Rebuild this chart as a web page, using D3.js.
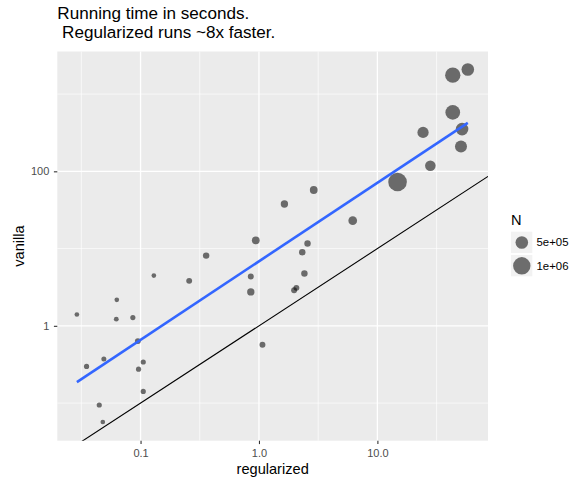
<!DOCTYPE html>
<html>
<head>
<meta charset="utf-8">
<script src="https://cdn.jsdelivr.net/npm/d3@7"></script>
<style>
  html, body { margin: 0; padding: 0; background: #fff; }
  svg { display: block; font-family: "Liberation Sans", Arial, Helvetica, sans-serif; }
</style>
</head>
<body>
<svg id="chart" width="571" height="481"></svg>
<script>
// ---- data ----
const regularized = [0.029, 0.063, 0.0624, 0.0861, 0.1295, 0.0949, 0.035, 0.049, 0.1054, 0.0962,
                     0.1054, 0.0448, 0.048, 0.358, 0.2575, 0.94, 0.853, 0.853, 1.07, 1.64,
                     2.90, 6.19, 2.57, 2.32, 2.42, 1.98, 2.07, 14.8, 28.0, 24.3,
                     43.3, 58.0, 43.3, 51.9, 50.8];
const vanilla     = [1.40, 2.17, 1.22, 1.28, 4.47, 0.634, 0.298, 0.371, 0.340, 0.275,
                     0.1415, 0.0944, 0.0569, 8.11, 3.82, 12.8, 4.34, 2.75, 0.568, 37.8,
                     57.3, 23.0, 11.6, 8.97, 4.75, 2.89, 3.10, 72.7, 118, 319,
                     1758, 2083, 579, 352, 210];
const N           = [50000, 50000, 55000, 65000, 50000, 90000, 65000, 60000, 65000, 65000,
                     65000, 65000, 50000, 110000, 90000, 170000, 90000, 150000, 90000, 150000,
                     170000, 220000, 110000, 110000, 110000, 90000, 90000, 1150000, 340000, 390000,
                     760000, 500000, 700000, 500000, 450000];

const xMajor = [0.1, 1, 10];
const xMajorLabels = ["0.1", "1.0", "10.0"];
const xMinor = [Math.pow(10, -1.5), Math.pow(10, -0.5), Math.pow(10, 0.5), Math.pow(10, 1.5)];
const yMajor = [1, 100];
const yMajorLabels = ["1", "100"];
const yMinor = [0.1, 10, 1000];
const legendN = [500000, 1000000];
const legendLabels = ["5e+05", "1e+06"];

const titleLines = ["Running time in seconds.", " Regularized runs ~8x faster."];

// ---- layout ----
const P = { left: 57.3, right: 488, top: 51.5, bottom: 440.7 };
const svg = d3.select("#chart");

const x = d3.scaleLog().domain([Math.pow(10, -1.703), Math.pow(10, 1.934)]).range([P.left, P.right]);
const y = d3.scaleLog().domain([Math.pow(10, -1.487), Math.pow(10, 3.551)]).range([P.bottom, P.top]);
const r = d3.scaleSqrt().domain([0, 1000000]).range([0.5, 8.7]);

// panel
svg.append("rect").attr("x", P.left).attr("y", P.top)
  .attr("width", P.right - P.left).attr("height", P.bottom - P.top).attr("fill", "#EBEBEB");

const clip = svg.append("clipPath").attr("id", "panelclip");
clip.append("rect").attr("x", P.left).attr("y", P.top)
  .attr("width", P.right - P.left).attr("height", P.bottom - P.top);

const grid = svg.append("g");
grid.selectAll("line.xmin").data(xMinor).join("line")
  .attr("x1", d => x(d)).attr("x2", d => x(d)).attr("y1", P.top).attr("y2", P.bottom)
  .attr("stroke", "#fff").attr("stroke-width", 0.65);
grid.selectAll("line.ymin").data(yMinor).join("line")
  .attr("y1", d => y(d)).attr("y2", d => y(d)).attr("x1", P.left).attr("x2", P.right)
  .attr("stroke", "#fff").attr("stroke-width", 0.65);
grid.selectAll("line.xmaj").data(xMajor).join("line")
  .attr("x1", d => x(d)).attr("x2", d => x(d)).attr("y1", P.top).attr("y2", P.bottom)
  .attr("stroke", "#fff").attr("stroke-width", 1.3);
grid.selectAll("line.ymaj").data(yMajor).join("line")
  .attr("y1", d => y(d)).attr("y2", d => y(d)).attr("x1", P.left).attr("x2", P.right)
  .attr("stroke", "#fff").attr("stroke-width", 1.3);

const panel = svg.append("g").attr("clip-path", "url(#panelclip)");

// points
const pts = regularized.map((d, i) => ({ x: d, y: vanilla[i], n: N[i] }));
panel.selectAll("circle.pt").data(pts).join("circle")
  .attr("cx", d => x(d.x)).attr("cy", d => y(d.y)).attr("r", d => r(d.n))
  .attr("fill", "#000").attr("fill-opacity", 0.55);

// identity line y = x
const xd = x.domain();
panel.append("line")
  .attr("x1", x(xd[0])).attr("y1", y(xd[0]))
  .attr("x2", x(xd[1])).attr("y2", y(xd[1]))
  .attr("stroke", "#000").attr("stroke-width", 1.1);

// linear fit in log-log space
const lx = regularized.map(Math.log10), ly = vanilla.map(Math.log10);
const mx = d3.mean(lx), my = d3.mean(ly);
const slope = d3.sum(lx, (v, i) => (v - mx) * (ly[i] - my)) / d3.sum(lx, v => (v - mx) * (v - mx));
const icpt = my - slope * mx;
const [xmin, xmax] = d3.extent(regularized);
const fit = [xmin, xmax].map(v => [v, Math.pow(10, icpt + slope * Math.log10(v))]);
panel.append("path")
  .attr("d", d3.line().x(d => x(d[0])).y(d => y(d[1]))(fit))
  .attr("fill", "none").attr("stroke", "#3366FF").attr("stroke-width", 2.6);

// axes
const xAxis = d3.axisBottom(x).tickValues(xMajor).tickFormat((d, i) => xMajorLabels[i])
  .tickSizeOuter(0).tickSize(3.4).tickPadding(4.8);
const gx = svg.append("g").attr("transform", `translate(0,${P.bottom})`).call(xAxis);
const yAxis = d3.axisLeft(y).tickValues(yMajor).tickFormat((d, i) => yMajorLabels[i])
  .tickSizeOuter(0).tickSize(3.4).tickPadding(4.6);
const gy = svg.append("g").attr("transform", `translate(${P.left},0)`).call(yAxis);
[gx, gy].forEach(g => {
  g.select(".domain").remove();
  g.selectAll("line").attr("stroke", "#333333").attr("stroke-width", 1.1);
  g.selectAll("text").attr("fill", "#4D4D4D").style("font-size", "11px")
    .style("font-family", "'Liberation Sans', Arial, sans-serif");
});

// axis titles
svg.append("text").attr("x", (P.left + P.right) / 2).attr("y", 474)
  .attr("text-anchor", "middle").style("font-size", "14.6px").attr("fill", "#000").text("regularized");
svg.append("text").attr("transform", `translate(24,${(P.top + P.bottom) / 2}) rotate(-90)`)
  .attr("text-anchor", "middle").style("font-size", "14.6px").attr("fill", "#000").text("vanilla");

// title
svg.append("g").selectAll("text").data(titleLines).join("text")
  .attr("x", P.left).attr("y", (d, i) => 19.3 + i * 18.2)
  .style("font-size", "17.1px").style("white-space", "pre").attr("fill", "#000")
  .text(d => d);

// legend
const lg = svg.append("g");
lg.append("text").attr("x", 511).attr("y", 225).style("font-size", "14.6px").attr("fill", "#000").text("N");
const keys = lg.selectAll("g.key").data(legendN).join("g")
  .attr("transform", (d, i) => `translate(511,${231.7 + i * 23.3})`);
keys.append("rect").attr("width", 21.3).attr("height", 21.3).attr("fill", "#F2F2F2");
keys.append("circle").attr("cx", 10.8).attr("cy", 10.8).attr("r", d => r(d))
  .attr("fill", "#000").attr("fill-opacity", 0.55);
keys.append("text").attr("x", 25.5).attr("y", 10.8).attr("dy", "0.35em")
  .style("font-size", "11.4px").attr("fill", "#000").text((d, i) => legendLabels[i]);
</script>
</body>
</html>
